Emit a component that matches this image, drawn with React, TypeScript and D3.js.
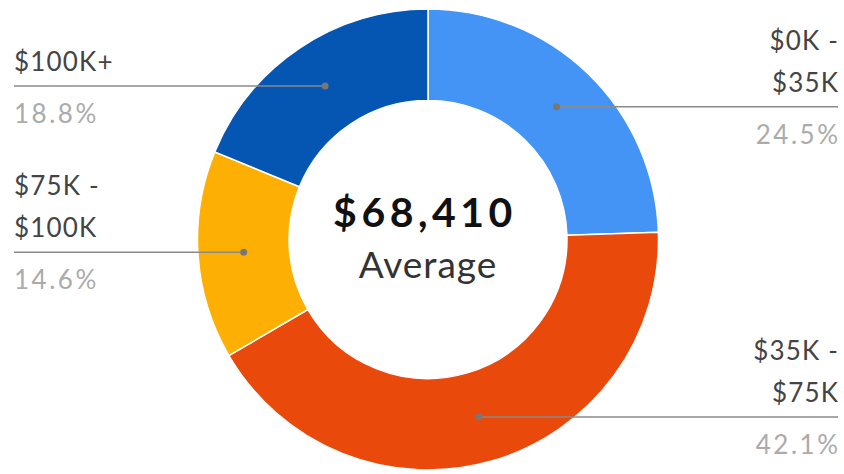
import React from "react";
import * as d3 from "d3";

const categories = ["$0K - $35K", "$35K - $75K", "$75K - $100K", "$100K+"];
const labelLines = [["$0K -", "$35K"], ["$35K -", "$75K"], ["$75K -", "$100K"], ["$100K+"]];
const shares = [24.5, 42.1, 14.6, 18.8];
const colors = ["#4494F6", "#E9490B", "#FDB003", "#0556B3"];
const averageValue = 68410;
const averageLabel = "Average";

const W = 844;
const H = 474;
const cx = 428;
const cy = 239.5;
const outerR = 230.5;
const innerR = 139;
const FONT = "Lato, 'Noto Sans', sans-serif";

export default function App() {
  const pie = d3.pie<number>().sort(null).value((d) => d);
  const arcs = pie(shares);
  const arc = d3.arc<d3.PieArcDatum<number>>().innerRadius(innerR).outerRadius(outerR);
  const fmt = d3.format("$,");

  return (
    <svg width={W} height={H} style={{ position: "absolute", left: 0, top: 0, background: "#fff" }}>
      <g transform={`translate(${cx},${cy})`}>
        {arcs.map((a, i) => (
          <path key={categories[i]} d={arc(a) || ""} fill={colors[i]} stroke="#fff" strokeWidth={1.5} />
        ))}
      </g>
      {arcs.map((a, i) => {
        const [mx, my] = arc.centroid(a);
        const px = cx + mx;
        const py = cy + my;
        const right = px > cx;
        const xEnd = right ? 838 : 14;
        const anchor = right ? "end" : "start";
        const lines = labelLines[i];
        return (
          <g key={"lab" + i}>
            <line x1={px} y1={py} x2={xEnd} y2={py} stroke="#8a8a8a" strokeWidth={1.5} />
            <circle cx={px} cy={py} r={3.5} fill="#777" />
            {lines.map((t, j) => (
              <text
                key={j}
                x={right ? xEnd + 1.2 : xEnd}
                y={py - 15 - (lines.length - 1 - j) * 42}
                textAnchor={anchor}
                fontFamily={FONT}
                fontSize={26}
                letterSpacing={1.2}
                fill="#444"
              >
                {t}
              </text>
            ))}
            <text
              x={right ? xEnd + 2.5 : xEnd}
              y={py + 37}
              textAnchor={anchor}
              fontFamily={FONT}
              fontSize={26}
              letterSpacing={2.5}
              fill="#ababab"
            >
              {shares[i].toFixed(1) + "%"}
            </text>
          </g>
        );
      })}
      <text
        x={cx - 3}
        y={227}
        textAnchor="middle"
        fontFamily={FONT}
        fontSize={41}
        fontWeight={700}
        letterSpacing={4.5}
        fill="#111"
      >
        {fmt(averageValue)}
      </text>
      <text x={cx} y={278} textAnchor="middle" fontFamily={FONT} fontSize={37} letterSpacing={1} fill="#333">
        {averageLabel}
      </text>
    </svg>
  );
}
